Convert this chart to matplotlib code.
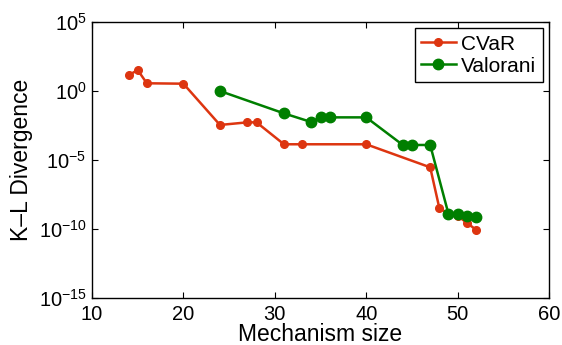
import matplotlib
matplotlib.use("Agg")
import matplotlib.pyplot as plt
import numpy as np

plt.rcParams['font.family'] = ['Liberation Sans', 'DejaVu Sans']
plt.rcParams['mathtext.fontset'] = 'custom'
plt.rcParams['mathtext.rm'] = 'Liberation Sans'
plt.rcParams['mathtext.it'] = 'Liberation Sans:italic'
plt.rcParams['mathtext.bf'] = 'Liberation Sans:bold'

cvar_x = [14, 15, 16, 20, 24, 27, 28, 31, 33, 40, 47, 48, 49, 50, 51, 52]
cvar_log = [1.14, 1.52, 0.56, 0.53, -2.46, -2.27, -2.27, -3.86, -3.86, -3.86,
            -5.53, -8.48, -8.9, -9.05, -9.54, -10.05]
val_x = [24, 31, 34, 35, 36, 40, 44, 45, 47, 49, 50, 51, 52]
val_log = [0.0, -1.62, -2.25, -1.91, -1.91, -1.91, -3.91, -3.91, -3.91,
           -8.91, -8.91, -9.06, -9.15]

cvar_y = 10.0 ** np.array(cvar_log)
val_y = 10.0 ** np.array(val_log)

fig = plt.figure(figsize=(5.62, 3.45), dpi=100)
ax = fig.add_axes([0.1637, 0.1362, 0.8132, 0.8000])

red = '#dd3510'
green = '#007f00'
ax.plot(cvar_x, cvar_y, '-o', color=red, lw=1.8, ms=5.5, label='CVaR')
ax.plot(val_x, val_y, '-o', color=green, lw=1.8, ms=7.5, label='Valorani')

ax.set_yscale('log')
ax.set_xlim(10, 60)
ax.set_ylim(1e-15, 1e5)
ax.set_xticks([10, 20, 30, 40, 50, 60])
ax.set_yticks([1e-15, 1e-10, 1e-5, 1e0, 1e5])
ax.set_yticklabels([r'$10^{-15}$', r'$10^{-10}$', r'$10^{-5}$', r'$10^{0}$', r'$10^{5}$'])
ax.yaxis.set_minor_locator(matplotlib.ticker.NullLocator())
ax.tick_params(direction='in', top=True, right=True, labelsize=14.5, length=4, width=0.8)
ax.tick_params(axis='y', pad=4)
ax.tick_params(axis='x', pad=5)
ax.set_xlabel('Mechanism size', fontsize=16.5, labelpad=-1)
ax.set_ylabel('K\u2013L Divergence', fontsize=16.5, labelpad=4)
for s in ax.spines.values():
    s.set_linewidth(1.0)

leg = ax.legend(loc='upper right', fontsize=15, fancybox=False, edgecolor='black',
                framealpha=1, handlelength=1.7, borderpad=0.3, labelspacing=0.15,
                handletextpad=0.25, borderaxespad=0.3)
leg.get_frame().set_linewidth(1.0)

fig.savefig('out.png', dpi=100)
